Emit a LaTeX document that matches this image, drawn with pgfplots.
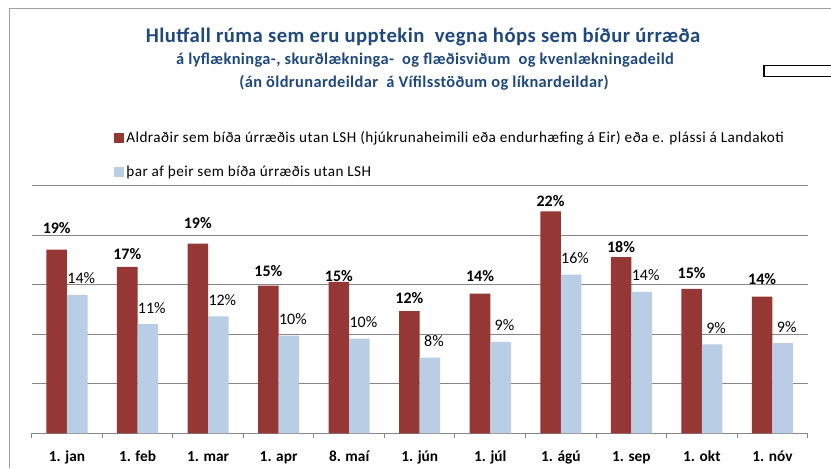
\documentclass[border=0pt]{standalone}
\usepackage{pgfplots}
\pgfplotsset{compat=1.18}
\usepackage{pgfplotstable}
\usepackage{fontspec}
\setmainfont{Carlito}
\definecolor{barred}{RGB}{149,55,53}
\definecolor{barblue}{RGB}{185,205,229}
\definecolor{titleblue}{RGB}{31,73,125}
\definecolor{gridgray}{RGB}{134,134,134}
\definecolor{framegray}{RGB}{160,160,160}

% x = category index, y = percent, off = label offset (pt)
\pgfplotstableread{
x y off
0 18.55 16.3
1 16.8 10.0
2 19.15 15.5
3 14.9 10.7
4 15.3 4.2
5 12.33 9.5
6 14.11 13.0
7 22.4 7.5
8 17.8 7.3
9 14.59 12.0
10 13.8 13.3
}\reddata
\pgfplotstableread{
x y off
0 13.98 12.4
1 11.02 12.4
2 11.8 12.4
3 9.85 12.4
4 9.55 12.4
5 7.63 12.4
6 9.24 12.4
7 16.03 12.4
8 14.28 12.4
9 8.97 12.4
10 9.1 12.4
}\bluedata

\begin{document}
\begin{tikzpicture}[x=0.75pt,y=0.75pt]
\path[use as bounding box] (0,0) rectangle (831,468);
\clip (0,0) rectangle (831,468);
\fill[white] (0,0) rectangle (831,468);
\draw[framegray, line width=1.2pt] (9.5,0) -- (9.5,459.5) -- (835,459.5);
\draw[black, line width=1.1pt] (764,402.5) rectangle (840,391.5);

\node[font=\bfseries\fontsize{15.5}{17}\selectfont\addfontfeature{LetterSpace=2.3}, text=titleblue] at (423,431) {Hlutfall rúma sem eru upptekin\ \ vegna hóps sem bíður úrræða};
\node[font=\bfseries\fontsize{12.3}{14}\selectfont\addfontfeature{LetterSpace=2.3}, text=titleblue] at (425,408) {á lyflækninga-, skurðlækninga-\ \ og flæðisviðum\ \ og kvenlækningadeild};
\node[font=\bfseries\fontsize{12.3}{14}\selectfont\addfontfeature{LetterSpace=2.3}, text=titleblue] at (424,385) {(án öldrunardeildar\ \ á Vífilsstöðum og líknardeildar)};

\begin{axis}[
  at={(23.775pt,26.025pt)}, anchor=south west,
  scale only axis,
  width=582pt, height=185.7pt,
  xmin=-0.5, xmax=10.5,
  ymin=0, ymax=25,
  axis line style={draw=none},
  ybar=0pt, bar width=15.4pt,
  xtick={0,...,10},
  xticklabels={1. jan,1. feb,1. mar,1. apr,8. maí,1. jún,1. júl,1. ágú,1. sep,1. okt,1. nóv},
  xtick pos=bottom,
  major x tick style={draw=none},
  minor xtick={-0.5,0.5,...,10.5},
  minor tick length=3.5pt,
  tick align=outside,
  minor x tick style={draw=gridgray, line width=0.75pt},
  xticklabel style={font=\bfseries\fontsize{11.5}{12}\selectfont, anchor=base, yshift=-17pt},
  ytick={0,5,...,25},
  yticklabels={},
  ytick style={draw=none},
  ymajorgrids,
  grid style={draw=gridgray, line width=0.75pt},
  /pgf/number format/assume math mode=true,
  legend cell align=left,
  legend style={draw=none, fill=none, at={(0.101,1.24)}, anchor=north west,
    font=\fontsize{11.4}{12}\selectfont\addfontfeature{LetterSpace=3}, row sep=13pt,
    nodes={inner sep=1.5pt}},
  legend image code/.code={\fill[#1] (0pt,-3.75pt) rectangle (7.5pt,3.75pt);},
  nodes near coords={\pgfmathprintnumber[fixed,precision=0]{\pgfplotspointmeta}\%},
  visualization depends on={\thisrow{off} \as \myoff},
  clip=false,
]
\addplot[fill=barred, draw=none,
  every node near coord/.append style={font=\bfseries\fontsize{12}{12}\selectfont, anchor=center, yshift=\myoff pt}]
  table[x=x,y=y] {\reddata};
\addplot[fill=barblue, draw=none,
  every node near coord/.append style={font=\fontsize{12}{12}\selectfont, anchor=center, yshift=\myoff pt, xshift=3pt}]
  table[x=x,y=y] {\bluedata};
\legend{Aldraðir sem bíða úrræðis utan LSH (hjúkrunaheimili eða endurhæfing á Eir) eða e. plássi á Landakoti, þar af þeir sem bíða úrræðis utan LSH}
\end{axis}
\end{tikzpicture}
\end{document}
